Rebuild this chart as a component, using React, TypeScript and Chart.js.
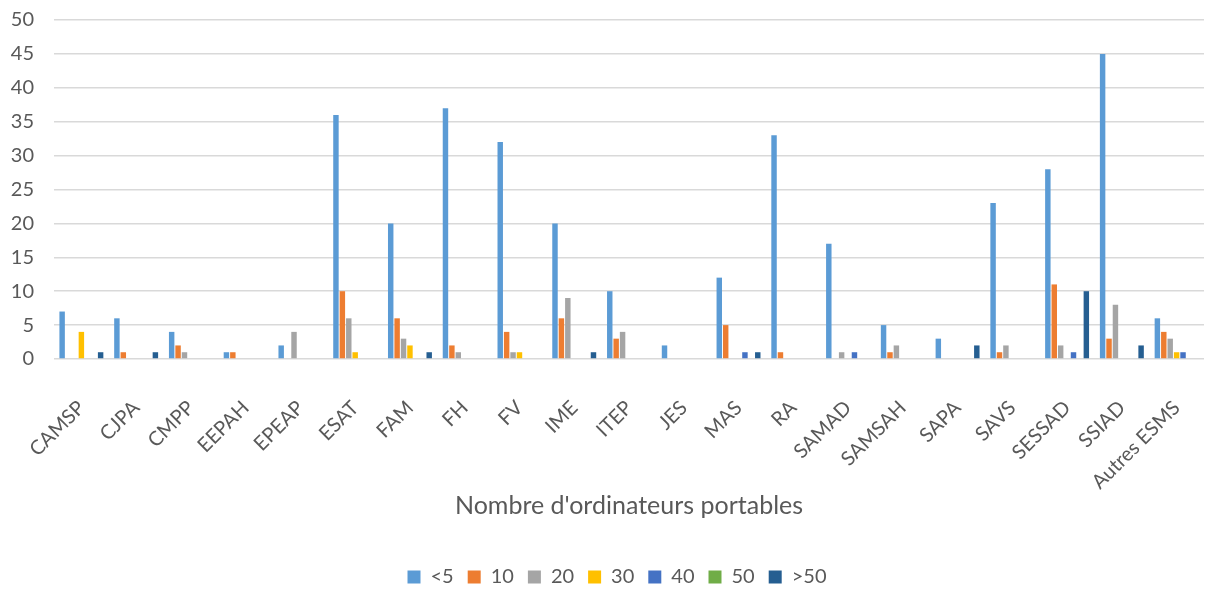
import React, { useEffect, useRef } from "react";
import { Chart, registerables } from "chart.js";

Chart.register(...registerables);

const categories = ["CAMSP", "CJPA", "CMPP", "EEPAH", "EPEAP", "ESAT", "FAM", "FH", "FV", "IME", "ITEP", "JES", "MAS", "RA", "SAMAD", "SAMSAH", "SAPA", "SAVS", "SESSAD", "SSIAD", "Autres ESMS"];

const seriesLt5 = [7, 6, 4, 1, 2, 36, 20, 37, 32, 20, 10, 2, 12, 33, 17, 5, 3, 23, 28, 45, 6];
const series10 = [0, 1, 2, 1, 0, 10, 6, 2, 4, 6, 3, 0, 5, 1, 0, 1, 0, 1, 11, 3, 4];
const series20 = [0, 0, 1, 0, 4, 6, 3, 1, 1, 9, 4, 0, 0, 0, 1, 2, 0, 2, 2, 8, 3];
const series30 = [4, 0, 0, 0, 0, 1, 2, 0, 1, 0, 0, 0, 0, 0, 0, 0, 0, 0, 0, 0, 1];
const series40 = [0, 0, 0, 0, 0, 0, 0, 0, 0, 0, 0, 0, 1, 0, 1, 0, 0, 0, 1, 0, 1];
const series50 = [0, 0, 0, 0, 0, 0, 0, 0, 0, 0, 0, 0, 0, 0, 0, 0, 0, 0, 0, 0, 0];
const seriesGt50 = [1, 1, 0, 0, 0, 0, 1, 0, 0, 1, 0, 0, 1, 0, 0, 0, 2, 0, 10, 2, 0];

const seriesLabels = ["<5", "10", "20", "30", "40", "50", ">50"];
const seriesColors = ["#5B9BD5", "#ED7D31", "#A5A5A5", "#FFC000", "#4472C4", "#70AD47", "#255E91"];
const yTicks = [0, 5, 10, 15, 20, 25, 30, 35, 40, 45, 50];
const axisTitle = "Nombre d'ordinateurs portables";

const FONT = "Lato, 'Liberation Sans', sans-serif";
const TEXT = "#595959";

const legendShift = {
  id: "legendShift",
  afterLayout(chart: any) {
    if (chart.legend) {
      chart.legend.left += 30;
    }
  },
};

export default function App() {
  const ref = useRef<HTMLCanvasElement | null>(null);
  useEffect(() => {
    document.body.style.margin = "0";
    const all = [seriesLt5, series10, series20, series30, series40, series50, seriesGt50];
    const chart = new Chart(ref.current as HTMLCanvasElement, {
      type: "bar",
      data: {
        labels: categories,
        datasets: all.map((d, i) => ({
          label: seriesLabels[i],
          data: d,
          backgroundColor: seriesColors[i],
          borderWidth: 0,
          categoryPercentage: 0.82,
          barPercentage: 0.85,
        })),
      },
      plugins: [legendShift],
      options: {
        responsive: false,
        animation: false,
        devicePixelRatio: 1,
        layout: { padding: { top: 20, right: 4, left: 0, bottom: 0 } },
        plugins: {
          tooltip: { enabled: false },
          legend: {
            position: "bottom",
            labels: {
              boxWidth: 13,
              boxHeight: 13,
              padding: 14,
              color: TEXT,
              font: { family: FONT, size: 20 },
            },
          },
        },
        scales: {
          x: {
            grid: { display: false },
            border: { display: false },
            ticks: {
              color: TEXT,
              font: { family: FONT, size: 20 },
              minRotation: 45,
              maxRotation: 45,
              autoSkip: false,
              padding: 29,
            },
            title: {
              display: true,
              text: axisTitle,
              color: TEXT,
              font: { family: FONT, size: 25 },
              padding: { top: 0, bottom: 32 },
            },
            afterFit: (s: any) => {
              s.height = 194;
              s.paddingRight = 0;
            },
          },
          y: {
            min: 0,
            max: 50,
            afterBuildTicks: (s: any) => {
              s.ticks = yTicks.map((v) => ({ value: v }));
            },
            grid: { color: "#D9D9D9", lineWidth: 1.5, drawTicks: false },
            border: { display: false },
            ticks: {
              color: TEXT,
              font: { family: FONT, size: 20 },
              padding: 20,
            },
            afterFit: (s: any) => {
              s.width = 54;
              s.paddingTop = 0;
              s.paddingBottom = 0;
            },
          },
        },
      },
    });
    return () => chart.destroy();
  }, []);
  return <canvas ref={ref} width={1208} height={597} style={{ display: "block" }} />;
}
